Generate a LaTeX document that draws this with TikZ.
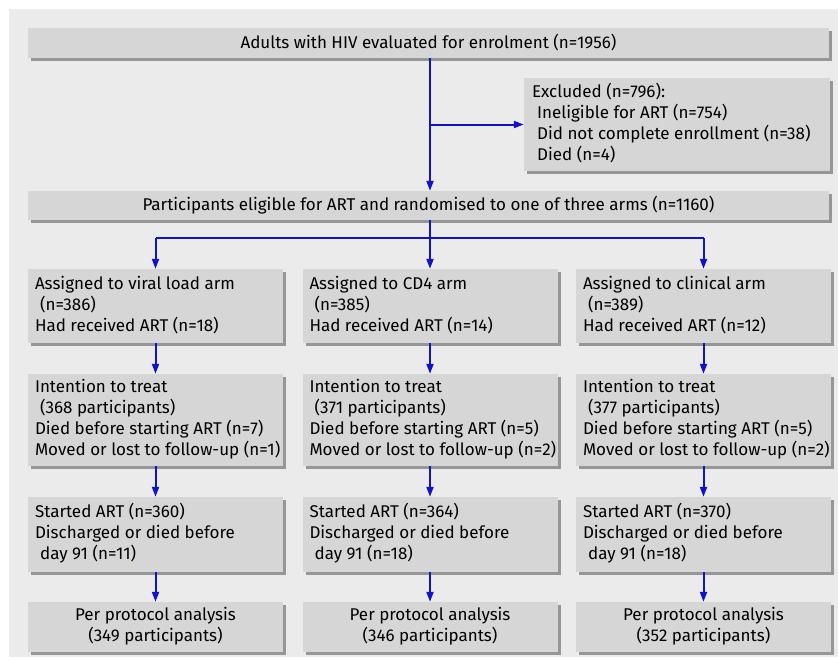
\documentclass[tikz,border=0pt]{standalone}
\usepackage{fontspec}
\setmainfont{Fira Sans}
\usetikzlibrary{arrows.meta,shadows,calc}
\definecolor{bgc}{RGB}{235,235,235}
\definecolor{boxc}{RGB}{214,214,214}
\definecolor{shc}{RGB}{150,150,150}
\definecolor{arrc}{RGB}{18,18,200}
\newcommand{\lbox}[1]{\makebox[241pt][l]{\begin{tabular}{@{}l@{}}#1\end{tabular}}}
\newcommand{\cbox}[1]{\begin{tabular}{@{}c@{}}#1\end{tabular}}
\newcommand{\ind}{\hspace*{0.3em}}
\begin{document}
\begin{tikzpicture}[x=1pt,y=-1pt,
  flowbox/.style={fill=boxc, inner sep=0pt, minimum width=255pt,
    drop shadow={shadow xshift=3pt, shadow yshift=-3pt, fill=shc, opacity=1},
    font=\fontsize{17}{21}\selectfont},
  flow/.style={draw=arrc, line width=2pt},
  arr/.style={flow, -{Triangle[length=10pt,width=7pt]}}
]
\useasboundingbox (0,0) rectangle (838,659);
\fill[bgc] (9,9) rectangle (838,657);

\node[flowbox, minimum width=801pt, minimum height=30pt] (top) at (428.5,43)
  {Adults with HIV evaluated for enrolment (n=1956)};
\node[flowbox, minimum width=306pt, minimum height=93pt] (excl) at (677,124.5)
  {\makebox[290pt][l]{\begin{tabular}{@{}l@{}}Excluded (n=796):\\\ind Ineligible for ART (n=754)\\\ind Did not complete enrollment (n=38)\\\ind Died (n=4)\end{tabular}}};
\node[flowbox, minimum width=801pt, minimum height=29pt] (part) at (428.5,205.5)
  {Participants eligible for ART and randomised to one of three arms (n=1160)};

% row 1
\node[flowbox, minimum height=74pt] (a1) at (155.5,306)
  {\lbox{Assigned to viral load arm\\\ind (n=386)\\Had received ART (n=18)}};
\node[flowbox, minimum height=74pt] (a2) at (430,306)
  {\lbox{Assigned to CD4 arm\\\ind (n=385)\\Had received ART (n=14)}};
\node[flowbox, minimum height=74pt] (a3) at (703.5,306)
  {\lbox{Assigned to clinical arm\\\ind (n=389)\\Had received ART (n=12)}};
% row 2
\node[flowbox, minimum height=92pt] (b1) at (155.5,420)
  {\lbox{Intention to treat\\\ind (368 participants)\\Died before starting ART (n=7)\\Moved or lost to follow-up (n=1)}};
\node[flowbox, minimum height=92pt] (b2) at (430,420)
  {\lbox{Intention to treat\\\ind (371 participants)\\Died before starting ART (n=5)\\Moved or lost to follow-up (n=2)}};
\node[flowbox, minimum height=92pt] (b3) at (703.5,420)
  {\lbox{Intention to treat\\\ind (377 participants)\\Died before starting ART (n=5)\\Moved or lost to follow-up (n=2)}};
% row 3
\node[flowbox, minimum height=75pt] (c1) at (155.5,534.5)
  {\lbox{Started ART (n=360)\\Discharged or died before\\\ind day 91 (n=11)}};
\node[flowbox, minimum height=75pt] (c2) at (430,534.5)
  {\lbox{Started ART (n=364)\\Discharged or died before\\\ind day 91 (n=18)}};
\node[flowbox, minimum height=75pt] (c3) at (703.5,534.5)
  {\lbox{Started ART (n=370)\\Discharged or died before\\\ind day 91 (n=18)}};
% row 4
\node[flowbox, minimum height=50pt] (d1) at (155.5,627)
  {\cbox{Per protocol analysis\\(349 participants)}};
\node[flowbox, minimum height=50pt] (d2) at (430,627)
  {\cbox{Per protocol analysis\\(346 participants)}};
\node[flowbox, minimum height=50pt] (d3) at (703.5,627)
  {\cbox{Per protocol analysis\\(352 participants)}};

% connectors
\coordinate (split) at (430,238);
\draw[arr] (top.south -| a2.north) -- (part.north -| a2.north);
\draw[arr] (excl.west -| a2.north) -- (excl.west);
\draw[flow] (part.south -| a2.north) -- (split);
\draw[flow] (split -| a1.north) -- (split -| a3.north);
\draw[arr] (split -| a1.north) -- (a1.north);
\draw[arr] (split) -- (a2.north);
\draw[arr] (split -| a3.north) -- (a3.north);
\foreach \c in {1,2,3}{
  \draw[arr] (a\c.south) -- (b\c.north);
  \draw[arr] (b\c.south) -- (c\c.north);
  \draw[arr] (c\c.south) -- (d\c.north);
}
\end{tikzpicture}
\end{document}
